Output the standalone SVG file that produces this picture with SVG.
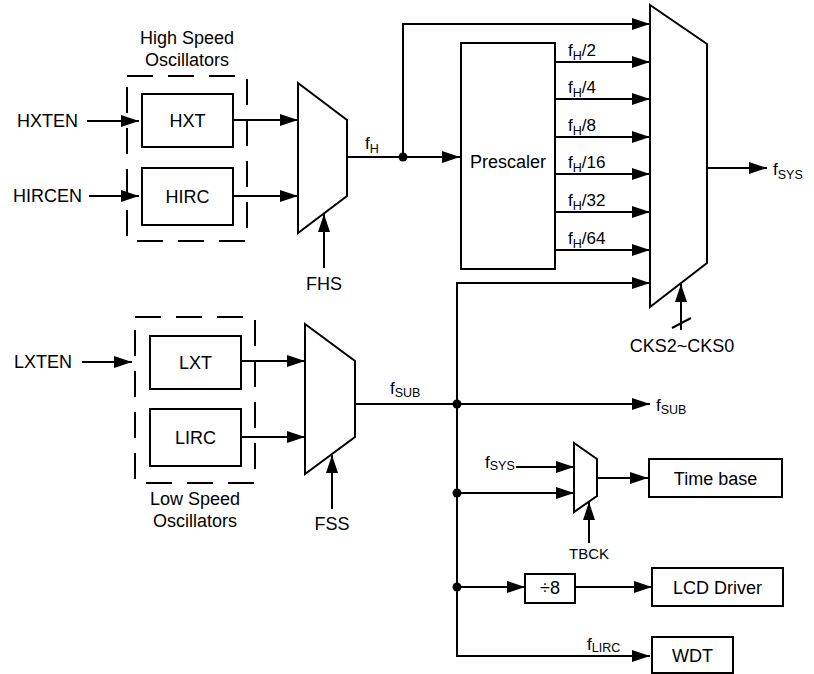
<svg xmlns="http://www.w3.org/2000/svg" width="814" height="674" viewBox="0 0 814 674">
<defs>
<marker id="ah" markerUnits="userSpaceOnUse" markerWidth="19" markerHeight="13" refX="18" refY="6" orient="auto">
<path d="M0,0 L18,6 L0,12 z" fill="#000"/>
</marker>
<style>
text{font-family:"Liberation Sans",Arial,sans-serif;fill:#000}
.t{font-size:18px}
.tc{font-size:18px;text-anchor:middle}
.ts{font-size:15px;text-anchor:middle}
.f{font-size:17px}
.box{fill:#fff;stroke:#000;stroke-width:2}
.mux{fill:#fff;stroke:#000;stroke-width:2;stroke-linejoin:miter}
.dash{fill:none;stroke:#000;stroke-width:2;stroke-dasharray:26 15}
.w{fill:none;stroke:#000;stroke-width:2}
.a{fill:none;stroke:#000;stroke-width:2;marker-end:url(#ah)}
</style>
</defs>
<rect width="814" height="674" fill="#fff"/>

<g id="hs-group">
<rect class="dash" x="127" y="76" width="120" height="165"/>
<text class="tc" x="187" y="44">High Speed</text>
<text class="tc" x="187" y="66">Oscillators</text>
</g>
<g id="ls-group">
<rect class="dash" x="135" y="317" width="120" height="166"/>
<text class="tc" x="195" y="505">Low Speed</text>
<text class="tc" x="195" y="527">Oscillators</text>
</g>

<g id="connectors">
<path class="a" d="M87,121 H139"/>
<path class="a" d="M89,196 H139"/>
<path class="a" d="M233,120 H298"/>
<path class="a" d="M233,196 H298"/>
<path class="a" d="M324,268 V214"/>
<path class="a" d="M347,157 H460"/>
<path class="a" d="M403,157 V24 H650"/>
<path class="a" d="M555,62 H650"/>
<path class="a" d="M555,99 H650"/>
<path class="a" d="M555,137 H650"/>
<path class="a" d="M555,174 H650"/>
<path class="a" d="M555,212 H650"/>
<path class="a" d="M555,250 H650"/>
<path class="a" d="M457,404 V283 H650"/>
<path class="a" d="M707,168 H767"/>
<path class="a" d="M681,330 V284"/>
<path class="w" d="M672,328 L691,318"/>
<path class="a" d="M82,362 H132"/>
<path class="a" d="M241,361 H305"/>
<path class="a" d="M241,437 H305"/>
<path class="a" d="M332,509 V455"/>
<path class="a" d="M355,404 H650"/>
<path class="a" d="M457,404 V656 H650"/>
<path class="a" d="M516,467 H574"/>
<path class="a" d="M457,493 H574"/>
<path class="a" d="M597,478 H648"/>
<path class="a" d="M589,543 V502"/>
<path class="a" d="M457,587 H525"/>
<path class="a" d="M575,587 H652"/>
<circle cx="403" cy="157" r="4.5" fill="#000"/>
<circle cx="457" cy="404" r="4.5" fill="#000"/>
<circle cx="457" cy="493" r="4.5" fill="#000"/>
<circle cx="457" cy="587" r="4.5" fill="#000"/>
</g>

<g id="hxten"><text class="t" x="17" y="127">HXTEN</text></g>
<g id="hircen"><text class="t" x="13" y="202">HIRCEN</text></g>
<g id="lxten"><text class="t" x="14" y="368">LXTEN</text></g>

<g id="hxt"><rect class="box" x="142" y="94" width="91" height="53"/><text class="tc" x="187.5" y="127">HXT</text></g>
<g id="hirc"><rect class="box" x="142" y="168" width="91" height="57"/><text class="tc" x="187.5" y="203">HIRC</text></g>
<g id="lxt"><rect class="box" x="150" y="336" width="91" height="53"/><text class="tc" x="195.5" y="369">LXT</text></g>
<g id="lirc"><rect class="box" x="150" y="409" width="91" height="57"/><text class="tc" x="195.5" y="444">LIRC</text></g>

<g id="mux-fhs"><polygon class="mux" points="298,83 347,120 347,196 298,233"/><text class="tc" x="324" y="290">FHS</text></g>
<g id="mux-fss"><polygon class="mux" points="305,324 355,361 355,437 305,474"/><text class="tc" x="332" y="530">FSS</text></g>
<g id="mux-sys"><polygon class="mux" points="650,5 707,44 707,263 650,307"/><text class="tc" x="682" y="352">CKS2~CKS0</text></g>
<g id="mux-tb"><polygon class="mux" points="574,443 597,459 597,496 574,512"/><text class="ts" x="589" y="559">TBCK</text></g>

<g id="prescaler"><rect class="box" x="461" y="43" width="94" height="226"/><text class="tc" x="508" y="168">Prescaler</text></g>
<g id="timebase"><rect class="box" x="649" y="459" width="133" height="38"/><text class="tc" x="715.5" y="484.5">Time base</text></g>
<g id="div8"><rect class="box" x="525" y="574" width="50" height="29"/><text class="tc" x="550" y="594">÷8</text></g>
<g id="lcd"><rect class="box" x="652" y="568" width="131" height="38"/><text class="tc" x="717.5" y="593.5">LCD Driver</text></g>
<g id="wdt"><rect class="box" x="652" y="637" width="81" height="36"/><text class="tc" x="692.5" y="662">WDT</text></g>

<g id="labels">
<text class="f" x="365" y="149">f<tspan font-size="12.5" dy="4">H</tspan></text>
<text class="f" x="568" y="56">f<tspan font-size="12.5" dy="4">H</tspan><tspan dy="-4">/2</tspan></text>
<text class="f" x="568" y="93">f<tspan font-size="12.5" dy="4">H</tspan><tspan dy="-4">/4</tspan></text>
<text class="f" x="568" y="131">f<tspan font-size="12.5" dy="4">H</tspan><tspan dy="-4">/8</tspan></text>
<text class="f" x="568" y="168">f<tspan font-size="12.5" dy="4">H</tspan><tspan dy="-4">/16</tspan></text>
<text class="f" x="568" y="206">f<tspan font-size="12.5" dy="4">H</tspan><tspan dy="-4">/32</tspan></text>
<text class="f" x="568" y="244">f<tspan font-size="12.5" dy="4">H</tspan><tspan dy="-4">/64</tspan></text>
<text class="f" x="773" y="175">f<tspan font-size="12.5" dy="4">SYS</tspan></text>
<text class="f" x="390" y="394">f<tspan font-size="12.5" dy="3">SUB</tspan></text>
<text class="f" x="656" y="411">f<tspan font-size="12.5" dy="3">SUB</tspan></text>
<text class="f" x="485" y="468">f<tspan font-size="12.5" dy="2">SYS</tspan></text>
<text class="f" x="587" y="650">f<tspan font-size="12.5" dy="2">LIRC</tspan></text>
</g>
</svg>
